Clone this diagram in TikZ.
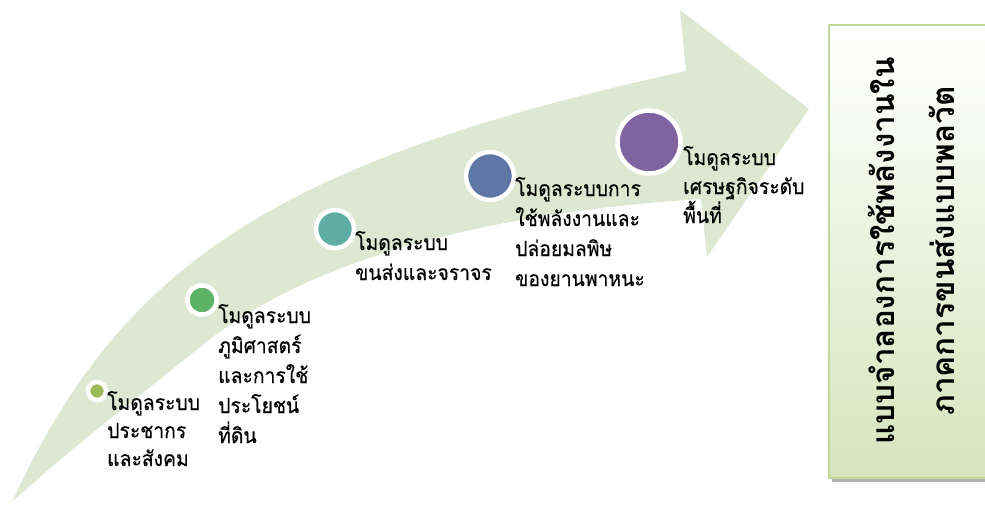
\documentclass[tikz,border=0pt]{standalone}
\usepackage{fontspec}
\newfontfamily\thai[Script=Thai]{Loma}
\newfontfamily\thaitext[Script=Thai, FakeStretch=0.92, FakeBold=0.4]{Loma}
\definecolor{arrowfill}{RGB}{222,231,210}
\definecolor{boxline}{RGB}{195,214,155}
\definecolor{boxbottom}{RGB}{214,228,188}
\definecolor{dotolive}{RGB}{155,187,89}
\definecolor{dotgreen}{RGB}{92,178,102}
\definecolor{dotteal}{RGB}{95,174,166}
\definecolor{dotblue}{RGB}{95,119,167}
\definecolor{dotpurple}{RGB}{128,100,162}
\tikzset{
  stage/.style={circle, draw=white, line width=4.5pt, inner sep=0pt},
  % anchored at the baseline of the last line
  label text/.style={anchor=base west, inner sep=0pt, align=left,
    font=\thaitext\fontsize{21}{30}\selectfont},
  title text/.style={rotate=90, align=center, inner sep=0pt,
    font=\thai\bfseries\fontsize{31.5}{60}\selectfont},
}
\begin{document}
\begin{tikzpicture}[x=1pt, y=-1pt]
\useasboundingbox (0,0) rectangle (985,506);
\clip (0,0) rectangle (985,506);

% curved arrow: upper edge, head, lower edge back to the tail
\fill[arrowfill]
  (12,502) .. controls (121,265) and (276,161) .. (686,71)
  -- (680,10) -- (809,109) -- (707,257) -- (701,199)
  .. controls (450,215) and (290,273) .. (200,347)
  .. controls (140,396) and (80,440) .. (12,502)
  -- cycle;

% stage markers
\node[stage, fill=dotolive,  minimum size=18pt] (s1) at (97,391) {};
\node[stage, fill=dotgreen,  minimum size=29pt] (s2) at (202,300) {};
\node[stage, fill=dotteal,   minimum size=38pt] (s3) at (335,229) {};
\node[stage, fill=dotblue,   minimum size=48pt] (s4) at (490,176) {};
\node[stage, fill=dotpurple, minimum size=63pt] (s5) at (649,142) {};

% stage labels
\node[label text, font=\thaitext\fontsize{21}{28}\selectfont] (l1) at (107,466)
  {โมดูลระบบ\\ประชากร\\และสังคม};
\node[label text] (l2) at (218,443) {โมดูลระบบ\\ภูมิศาสตร์\\และการใช้\\ประโยชน์\\ที่ดิน};
\node[label text] (l3) at (355,280) {โมดูลระบบ\\ขนส่งและจราจร};
\node[label text] (l4) at (515,286) {โมดูลระบบการ\\ใช้พลังงานและ\\ปล่อยมลพิษ\\ของยานพาหนะ};
\node[label text, font=\thaitext\fontsize{21}{29}\selectfont] (l5) at (683,223)
  {โมดูลระบบ\\เศรษฐกิจระดับ\\พื้นที่};

% title box with shadow
\fill[gray!60] (832,29) rectangle (995,482);
\shade[top color=white, bottom color=boxbottom, draw=boxline, line width=2.5pt]
  (829,25) rectangle (992,478);
\node[title text] (title) at (911,251)
  {แบบจำลองการใช้พลังงานใน\\ภาคการขนส่งแบบพลวัต};
\end{tikzpicture}
\end{document}
